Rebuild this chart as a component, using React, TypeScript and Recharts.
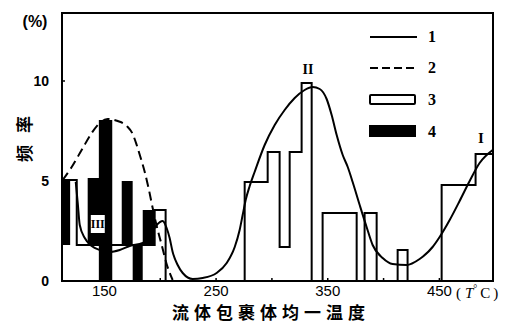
import React from 'react';
import { ComposedChart, Line, XAxis, YAxis, ReferenceArea } from 'recharts';

// Tick values
const X_TICKS = [150, 200, 250, 300, 350, 400, 450];
const X_LABELS = [150, 250, 350, 450];
const Y_TICKS = [0, 5, 10];

// Series 1: solid fitted curve (temperature, frequency %)
const curve1T = [124.3, 126.1, 127.9, 132.4, 138.6, 145.8, 154.7, 163.7, 172.6, 184.3, 190.5, 196.8, 202.2, 205.7, 208.4, 211.1, 215.6, 220.1, 229.1, 238.0, 250.5, 259.5, 266.7, 271.1, 273.8, 276.5, 280.1, 284.5, 293.5, 302.5, 311.4, 320.4, 329.3, 336.5, 342.8, 349.0, 353.5, 358.0, 363.4, 367.9, 372.3, 378.6, 384.8, 390.2, 399.2, 408.1, 420.6, 432.3, 443.9, 450.2, 459.2, 468.1, 477.1, 486.0, 497.7];
const curve1V = [4.95, 3.9, 2.8, 2.15, 1.75, 1.55, 1.45, 1.55, 1.75, 1.9, 2.25, 2.8, 3.0, 2.65, 2.15, 1.45, 0.8, 0.4, 0.1, 0.15, 0.4, 0.9, 1.7, 2.55, 3.3, 4.05, 4.75, 5.45, 6.8, 7.8, 8.55, 9.15, 9.55, 9.7, 9.6, 9.1, 8.3, 7.3, 6.3, 5.7, 4.95, 3.8, 2.7, 1.8, 1.15, 0.85, 0.8, 1.1, 1.7, 2.2, 3.05, 4.0, 5.0, 5.9, 6.55];

// Series 2: dashed curve
const curve2T = [112.6, 120.7, 129.6, 138.6, 145.8, 152.9, 161.9, 170.0, 175.3, 178.9, 182.5, 186.1, 189.7, 193.2, 196.8, 201.3, 205.7, 211.1];
const curve2V = [5.05, 5.7, 6.55, 7.4, 7.9, 8.1, 8.0, 7.75, 7.35, 6.8, 6.15, 5.45, 4.6, 3.65, 2.75, 1.8, 0.85, 0.05];

// Series 3: open histogram (step edges)
const hist3T = [112.6, 125.2, 195.0, 204.8, 275.6, 296.2, 306.9, 315.9, 326.6, 335.6, 345.4, 375.9, 383.0, 393.8, 412.6, 421.5, 452.0, 482.4, 497.7];
const hist3V = [5.05, 1.8, 3.55, 0, 4.95, 6.45, 1.7, 6.45, 9.9, 0, 3.4, 0, 3.4, 0, 1.55, 0, 4.8, 6.35, 6.35];

// Series 4: filled histogram bars (from, to, low, high)
const hist4From = [112.6, 135.0, 145.0, 165.5, 175.3, 184.3];
const hist4To = [119.3, 145.8, 157.0, 175.3, 184.3, 195.0];
const hist4Low = [1.8, 1.8, 0, 1.8, 0, 1.8];
const hist4High = [5.05, 5.15, 8.05, 5.0, 1.8, 3.55];

const X_DOMAIN: [number, number] = [112, 498];
const Y_DOMAIN: [number, number] = [0, 13.4];

const curve1 = curve1T.map((t, i) => ({ t, v: curve1V[i] }));
const curve2 = curve2T.map((t, i) => ({ t, v: curve2V[i] }));
const hist3 = hist3T.map((t, i) => ({ t, v: hist3V[i] }));

const SANS = '"Liberation Sans", Arial, sans-serif';
const SERIF = '"Liberation Serif", "Times New Roman", serif';
const CJK = '"Noto Sans CJK SC", sans-serif';

export default function App() {
  return (
    <div style={{ position: 'absolute', left: 0, top: 0, width: 518, height: 324, background: '#fff', fontFamily: SANS }}>
      <ComposedChart width={518} height={324} margin={{ top: 13, right: 25, left: 0, bottom: 0 }}>
        <XAxis
          type="number"
          dataKey="t"
          domain={X_DOMAIN}
          allowDataOverflow
          ticks={X_TICKS}
          tickFormatter={(v: number) => (X_LABELS.includes(v) ? String(v) : '')}
          height={43}
          tickSize={-3}
          tickMargin={7}
          axisLine={{ stroke: '#000', strokeWidth: 2 }}
          tickLine={{ stroke: '#000', strokeWidth: 1.5 }}
          tick={{ fontSize: 15, fill: '#000', fontFamily: SANS }}
        />
        <YAxis
          type="number"
          domain={Y_DOMAIN}
          allowDataOverflow
          ticks={Y_TICKS}
          width={62}
          tickSize={-3}
          tickMargin={16}
          axisLine={{ stroke: '#000', strokeWidth: 2 }}
          tickLine={{ stroke: '#000', strokeWidth: 1.5 }}
          tick={{ fontSize: 14, fontWeight: 'bold', fill: '#000', fontFamily: SANS }}
        />
        <ReferenceArea x1={X_DOMAIN[0]} x2={X_DOMAIN[1]} y1={Y_DOMAIN[0]} y2={Y_DOMAIN[1]} fill="none" stroke="#000" strokeWidth={2} ifOverflow="visible" />
        {hist4From.map((f, i) => (
          <ReferenceArea key={i} x1={f} x2={hist4To[i]} y1={hist4Low[i]} y2={hist4High[i]} fill="#000" fillOpacity={1} stroke="none" ifOverflow="visible" />
        ))}
        <ReferenceArea
          x1={137.8}
          x2={150.3}
          y1={2.4}
          y2={3.3}
          fill="#fff"
          fillOpacity={1}
          stroke="none"
          label={{ value: 'III', position: 'center', fontSize: 12, fontWeight: 'bold', fill: '#000', fontFamily: SERIF }}
        />
        <Line data={hist3} dataKey="v" type="stepAfter" stroke="#000" strokeWidth={2} dot={false} activeDot={false} isAnimationActive={false} />
        <Line data={curve2} dataKey="v" type="monotone" stroke="#000" strokeWidth={2} strokeDasharray="9 5" dot={false} activeDot={false} isAnimationActive={false} />
        <Line data={curve1} dataKey="v" type="monotone" stroke="#000" strokeWidth={2} dot={false} activeDot={false} isAnimationActive={false} />
      </ComposedChart>
      <svg width={518} height={324} style={{ position: 'absolute', left: 0, top: 0, pointerEvents: 'none' }}>
        <text x={35} y={27} textAnchor="middle" fontSize={16} fontWeight="bold" fontFamily={SANS}>(%)</text>
        <text transform="translate(23,133) rotate(-90)" textAnchor="middle" dominantBaseline="central" fontSize={17} fontWeight="bold" letterSpacing={12} fontFamily={CJK}>频率</text>
        <text x={456} y={298} fontSize={15} fontFamily={SERIF}>
          (<tspan dx={4} fontStyle="italic">T</tspan><tspan fontSize={10} dy={-6}>°</tspan><tspan dx={3} dy={6}>C</tspan><tspan dx={3}>)</tspan>
        </text>
        <text x={271} y={319} textAnchor="middle" fontSize={17} fontWeight="bold" letterSpacing={5} fontFamily={CJK}>流体包裹体均一温度</text>
        <text x={308} y={74} textAnchor="middle" fontSize={14} fontWeight="bold" fontFamily={SERIF}>II</text>
        <text x={481} y={143} textAnchor="middle" fontSize={15} fontWeight="bold" fontFamily={SERIF}>I</text>
        {/* legend */}
        <line x1={370} y1={37} x2={417} y2={37} stroke="#000" strokeWidth={2} />
        <line x1={370} y1={68} x2={417} y2={68} stroke="#000" strokeWidth={2} strokeDasharray="8 4" />
        <rect x={370} y={95} width={45} height={9} fill="#fff" stroke="#000" strokeWidth={2} rx={1} />
        <rect x={369} y={125} width={47} height={12} fill="#000" />
        <text x={428} y={42} fontSize={16} fontWeight="bold" fontFamily={SERIF}>1</text>
        <text x={428} y={73} fontSize={16} fontWeight="bold" fontFamily={SERIF}>2</text>
        <text x={428} y={105} fontSize={16} fontWeight="bold" fontFamily={SERIF}>3</text>
        <text x={428} y={137} fontSize={16} fontWeight="bold" fontFamily={SERIF}>4</text>
      </svg>
    </div>
  );
}
